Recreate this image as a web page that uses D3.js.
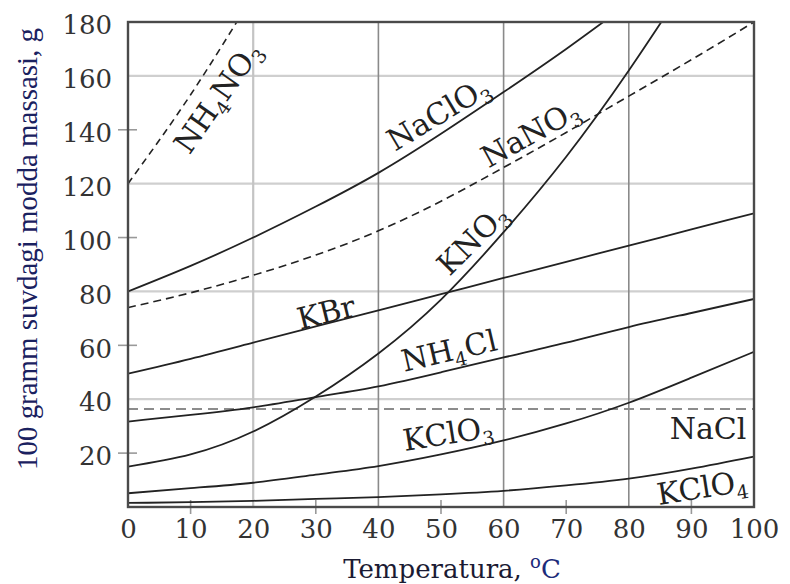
<!DOCTYPE html>
<html>
<head>
<meta charset="utf-8">
<script src="https://cdn.jsdelivr.net/npm/d3@7"></script>
<style>
  body { margin: 0; background: #fff; }
  svg { display: block; }
</style>
</head>
<body>
<svg width="790" height="584"></svg>
<script>
// temperatures (°C) and solubility values (g / 100 g water)
var temps = [0, 10, 20, 30, 40, 50, 60, 70, 80, 90, 100];
var tempsShort = [0, 10, 20];

var naclo3 = [80, 89.5, 100, 111.5, 124, 138.5, 154, 170, 187];
var nano3 = [74, 79.5, 86, 93.5, 102.5, 113.5, 126, 139, 152.5, 166, 180];
var kno3 = [15, 19.5, 28, 41, 57, 77, 102, 130, 162, 197];
var kbr = [49.5, 55, 61, 67, 73, 79, 85, 91, 97, 103, 109];
var nh4cl = [31.7, 34.2, 37, 40.8, 44.8, 50, 55.5, 61, 66.8, 72, 77.2];
var kclo3 = [5.1, 7, 9, 12, 15.2, 19.5, 24.7, 31, 38.7, 48, 57.6];
var kclo4 = [1.5, 1.8, 2.3, 3, 3.7, 4.7, 6, 8, 10.5, 14.2, 18.7];
var nacl = [36.4, 36.4, 36.4, 36.4, 36.4, 36.4, 36.4, 36.4, 36.4, 36.4, 36.4];
var nh4no3 = [120, 153, 190];

var xTicks = [0, 10, 20, 30, 40, 50, 60, 70, 80, 90, 100];
var yTicks = [20, 40, 60, 80, 100, 120, 140, 160, 180];
var xGrid = [20, 40, 60, 80];
var yGrid = [40, 80, 120, 160];
var xMinor = [10, 30, 50, 70, 90];
var yMinor = [20, 60, 100, 140];

var svg = d3.select('svg');
var pLeft = 128, pRight = 754, pTop = 22, pBottom = 507;

var x = d3.scaleLinear().domain([0, 100]).range([pLeft, pRight]);
var y = d3.scaleLinear().domain([0, 180]).range([pBottom, pTop]);

svg.append('rect').attr('width', 790).attr('height', 584).attr('fill', '#fff');

svg.append('clipPath').attr('id', 'plot')
  .append('rect')
    .attr('x', pLeft).attr('y', pTop)
    .attr('width', pRight - pLeft).attr('height', pBottom - pTop);

// grid
svg.selectAll('.hgrid')
  .data(yGrid)
  .enter()
  .append('line')
    .attr('x1', pLeft).attr('x2', pRight)
    .attr('y1', d => y(d)).attr('y2', d => y(d))
    .attr('stroke', '#cfcfcf')
    .attr('stroke-width', 2.2);

svg.selectAll('.vgrid')
  .data(xGrid)
  .enter()
  .append('line')
    .attr('y1', pTop).attr('y2', pBottom)
    .attr('x1', d => x(d)).attr('x2', d => x(d))
    .attr('stroke', d => d === 20 ? '#c4c4c4' : '#8a8a8a')
    .attr('stroke-width', d => d === 20 ? 2.2 : 1.6);

// small ticks crossing the frame
svg.selectAll('.ytick')
  .data(yMinor)
  .enter()
  .append('line')
    .attr('x1', pLeft - 10).attr('x2', pLeft + 9)
    .attr('y1', d => y(d)).attr('y2', d => y(d))
    .attr('stroke', '#999')
    .attr('stroke-width', 1.6);

svg.selectAll('.xtick')
  .data(xMinor)
  .enter()
  .append('line')
    .attr('x1', d => x(d)).attr('x2', d => x(d))
    .attr('y1', pBottom - 7).attr('y2', pBottom + 7)
    .attr('stroke', '#999')
    .attr('stroke-width', 1.6);

// curves
var line = d3.line()
  .x(d => x(d[0]))
  .y(d => y(d[1]))
  .curve(d3.curveNatural);

var series = [
  { t: temps, v: nacl, color: '#8c8c8c', width: 2, dash: '10,6' },
  { t: temps, v: naclo3, color: '#222', width: 1.8, dash: null },
  { t: temps, v: nano3, color: '#222', width: 1.6, dash: '8,5' },
  { t: temps, v: kno3, color: '#222', width: 1.8, dash: null },
  { t: temps, v: kbr, color: '#222', width: 1.8, dash: null },
  { t: temps, v: nh4cl, color: '#222', width: 1.8, dash: null },
  { t: temps, v: kclo3, color: '#222', width: 1.8, dash: null },
  { t: temps, v: kclo4, color: '#222', width: 1.8, dash: null },
  { t: tempsShort, v: nh4no3, color: '#222', width: 1.6, dash: '7,5' }
];

svg.append('g')
  .attr('clip-path', 'url(#plot)')
  .selectAll('path')
  .data(series)
  .enter()
  .append('path')
    .attr('d', s => line(s.v.map((v, i) => [s.t[i], v])))
    .attr('fill', 'none')
    .attr('stroke', s => s.color)
    .attr('stroke-width', s => s.width)
    .attr('stroke-dasharray', s => s.dash);

// frame
svg.append('rect')
  .attr('x', pLeft).attr('y', pTop)
  .attr('width', pRight - pLeft).attr('height', pBottom - pTop)
  .attr('fill', 'none')
  .attr('stroke', '#4a4a4a')
  .attr('stroke-width', 2.4);

// tick labels
var yAxis = d3.axisLeft(y).tickValues(yTicks).tickSize(0).tickPadding(16);
var xAxis = d3.axisBottom(x).tickValues(xTicks).tickSize(0).tickPadding(13);

var gy = svg.append('g').attr('transform', `translate(${pLeft},0)`).call(yAxis);
var gx = svg.append('g').attr('transform', `translate(0,${pBottom})`).call(xAxis);

[gy, gx].forEach(g => {
  g.select('.domain').remove();
  g.selectAll('text')
    .attr('font-family', '"DejaVu Serif", serif')
    .attr('font-size', 26)
    .attr('fill', '#333');
});
gy.selectAll('text').attr('dy', '0.45em');

// axis titles
var xt = svg.append('text')
  .attr('x', 452)
  .attr('y', 578)
  .attr('text-anchor', 'middle')
  .attr('font-family', '"DejaVu Serif", serif')
  .attr('font-size', 26)
  .attr('fill', '#1b1b33');
xt.append('tspan').text('Temperatura, ');
xt.append('tspan').attr('font-size', 18).attr('dy', -10).attr('fill', '#1d2b7a').text('o');
xt.append('tspan').attr('dy', 10).attr('fill', '#1d2b7a').text('C');

svg.append('text')
  .attr('transform', 'translate(37,249) rotate(-90)')
  .attr('text-anchor', 'middle')
  .attr('font-family', '"Liberation Serif", serif')
  .attr('font-size', 29)
  .attr('textLength', 442)
  .attr('lengthAdjust', 'spacingAndGlyphs')
  .attr('fill', '#1a2160')
  .text('100 gramm suvdagi modda massasi, g');

// curve labels: [text, subscript] pieces
var labels = [
  { parts: [['NH', 0], ['4', 1], ['NO', 0], ['3', 1]], cx: 217, cy: 97, angle: -55 },
  { parts: [['NaClO', 0], ['3', 1]], cx: 438, cy: 113, angle: -31 },
  { parts: [['NaNO', 0], ['3', 1]], cx: 530, cy: 133, angle: -29 },
  { parts: [['KNO', 0], ['3', 1]], cx: 472, cy: 239, angle: -45 },
  { parts: [['KBr', 0]], cx: 326, cy: 312, angle: -14 },
  { parts: [['NH', 0], ['4', 1], ['Cl', 0]], cx: 449, cy: 350, angle: -13 },
  { parts: [['KClO', 0], ['3', 1]], cx: 448, cy: 433, angle: -9 },
  { parts: [['NaCl', 0]], cx: 708, cy: 428, angle: 0 },
  { parts: [['KClO', 0], ['4', 1]], cx: 702, cy: 487, angle: -9 }
];

labels.forEach(l => {
  var t = svg.append('text')
    .attr('transform', `translate(${l.cx},${l.cy}) rotate(${l.angle})`)
    .attr('y', 11)
    .attr('text-anchor', 'middle')
    .attr('font-family', '"DejaVu Serif", serif')
    .attr('font-size', 30)
    .attr('fill', '#222');
  var shift = 0;
  l.parts.forEach(p => {
    var dy = p[1] ? 7 - shift : -shift;
    shift = p[1] ? 7 : 0;
    t.append('tspan')
      .attr('dy', dy)
      .attr('font-size', p[1] ? 19 : 30)
      .text(p[0]);
  });
});
</script>
</body>
</html>
